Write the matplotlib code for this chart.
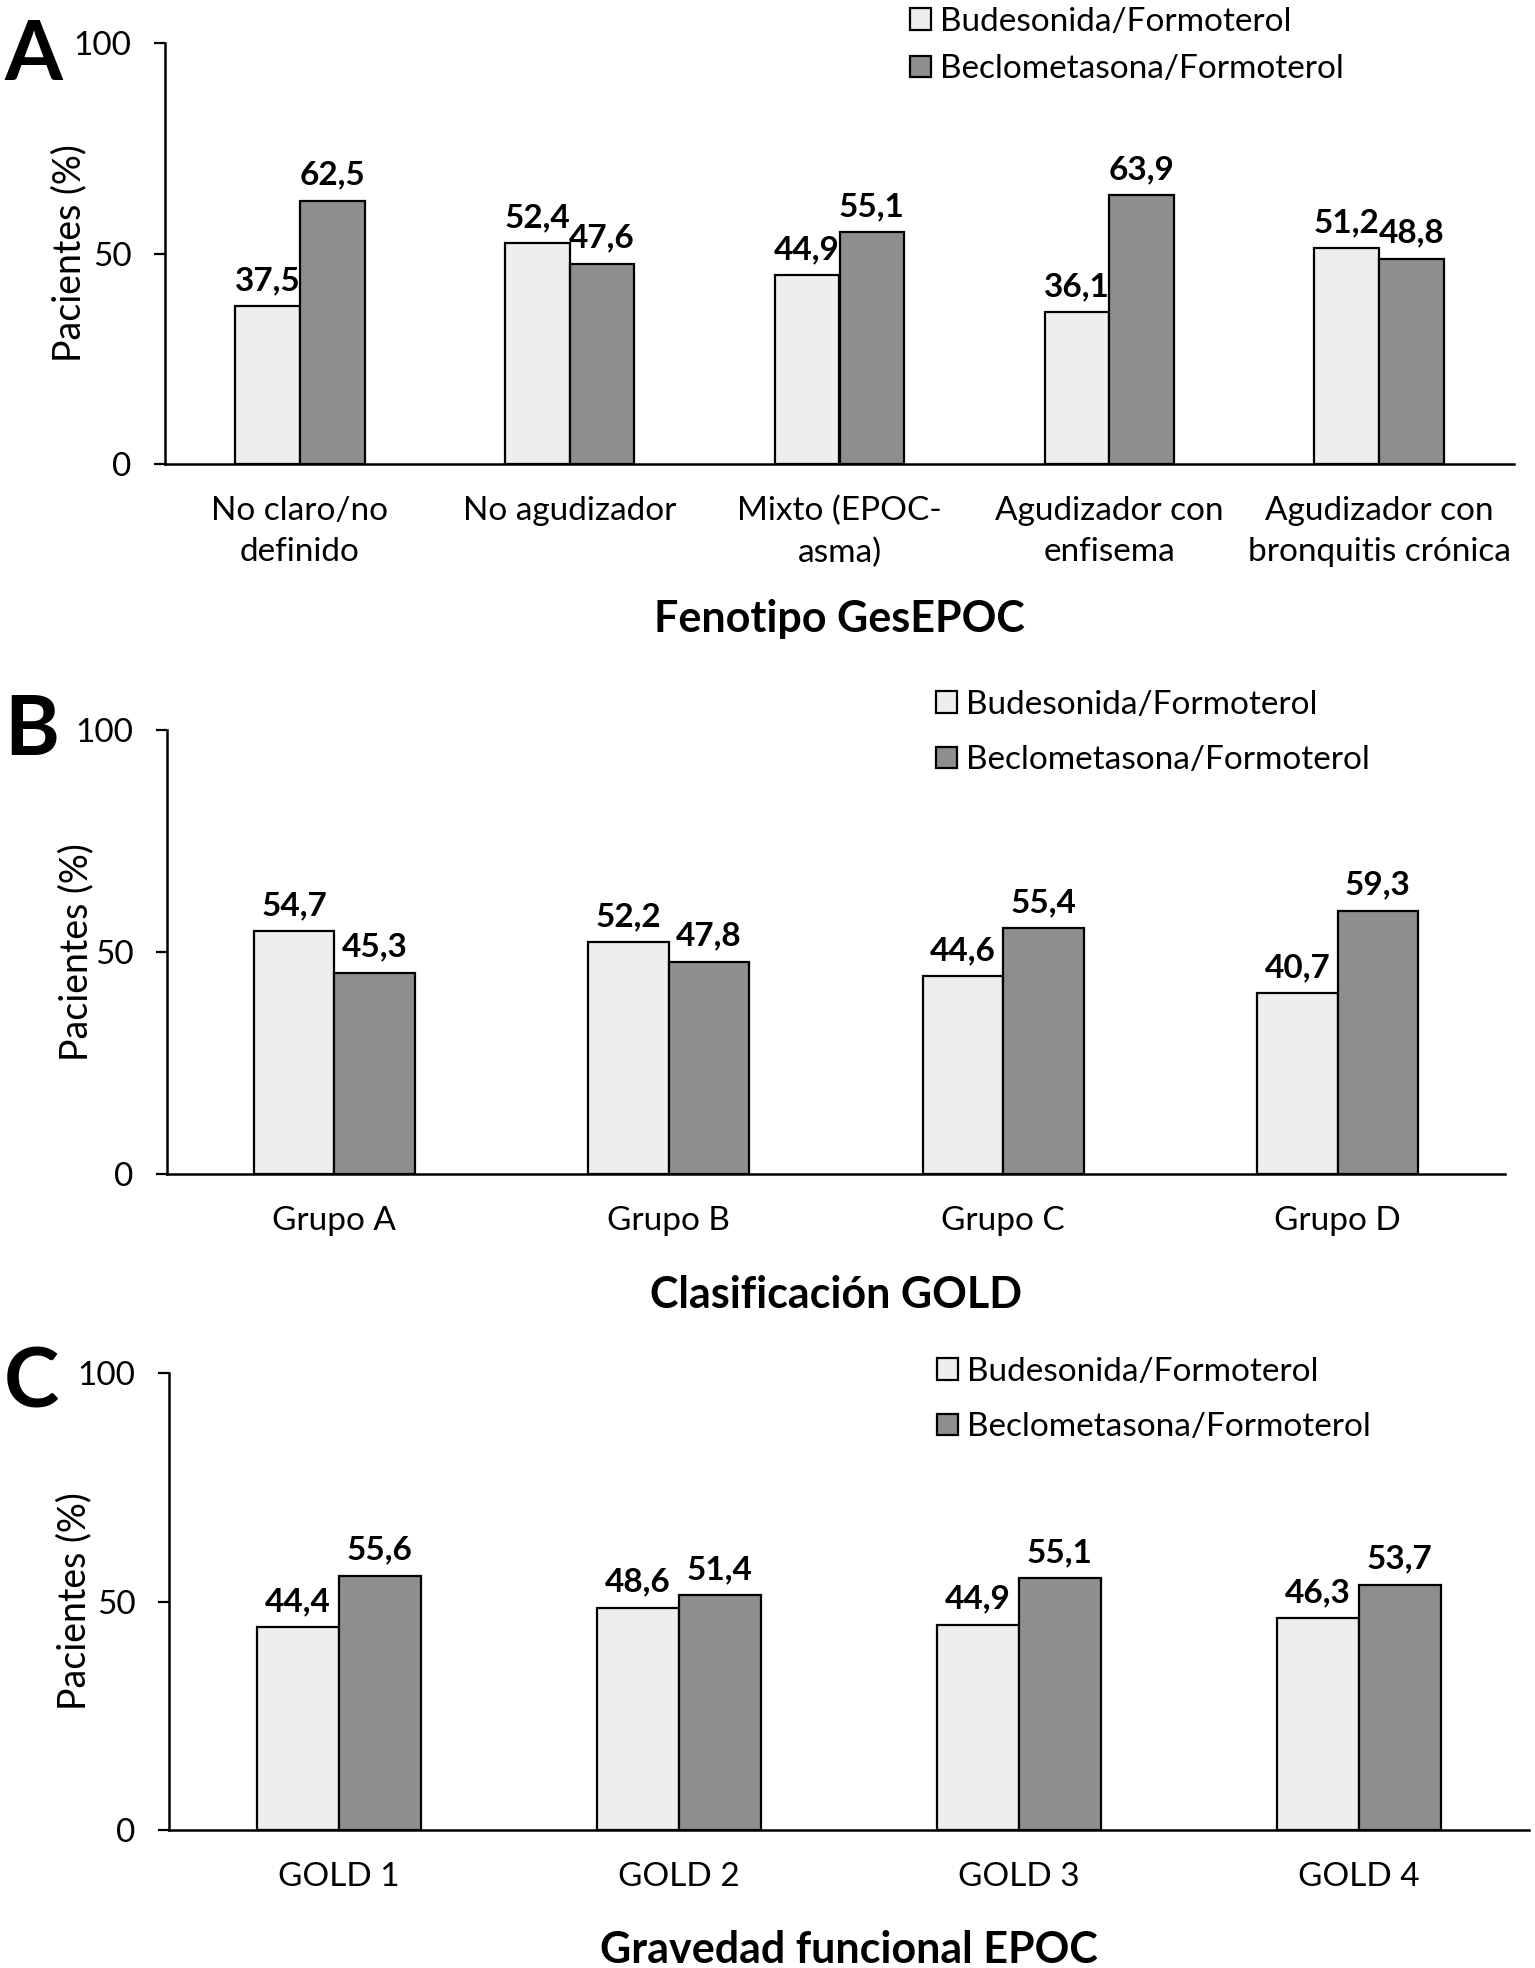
import matplotlib
matplotlib.use("Agg")
import matplotlib.pyplot as plt
import numpy as np
from matplotlib.patches import Patch

plt.rcParams['font.family'] = ['Lato', 'DejaVu Sans']

series_names = ["Budesonida/Formoterol", "Beclometasona/Formoterol"]

cats_a = ["No claro/no\ndefinido", "No agudizador", "Mixto (EPOC-\nasma)",
          "Agudizador con\nenfisema", "Agudizador con\nbronquitis crónica"]
bud_a = [37.5, 52.4, 44.9, 36.1, 51.2]
bec_a = [62.5, 47.6, 55.1, 63.9, 48.8]

cats_b = ["Grupo A", "Grupo B", "Grupo C", "Grupo D"]
bud_b = [54.7, 52.2, 44.6, 40.7]
bec_b = [45.3, 47.8, 55.4, 59.3]

cats_c = ["GOLD 1", "GOLD 2", "GOLD 3", "GOLD 4"]
bud_c = [44.4, 48.6, 44.9, 46.3]
bec_c = [55.6, 51.4, 55.1, 53.7]

titles = ["Fenotipo GesEPOC", "Clasificación GOLD", "Gravedad funcional EPOC"]
letters = ["A", "B", "C"]
yticks = [0, 50, 100]

W, H = 1535, 1968
DPI = 100
fig = plt.figure(figsize=(W / DPI, H / DPI), dpi=DPI)

LIGHT = "#EEEEEE"
DARK = "#8E8E8E"

# pixel layouts: left, right, y0 (bottom), y100 (top)
layouts = [
    dict(l=165, r=1514, b=464, t=43, leg_x=910, leg_top=7, leg_sp=0.52,
         letter_base=80, title_base=632, ylab_x=87),
    dict(l=167, r=1505, b=1174, t=730, leg_x=936, leg_top=690, leg_sp=0.76,
         letter_base=755, title_base=1308, ylab_x=94),
    dict(l=169, r=1529, b=1830, t=1373, leg_x=937, leg_top=1357, leg_sp=0.76,
         letter_base=1407, title_base=1963, ylab_x=92),
]

data = [(cats_a, bud_a, bec_a), (cats_b, bud_b, bec_b), (cats_c, bud_c, bec_c)]

bw = 0.24
for k, ((cats, bud, bec), L) in enumerate(zip(data, layouts)):
    ax = fig.add_axes([L['l'] / W, 1 - L['b'] / H, (L['r'] - L['l']) / W, (L['b'] - L['t']) / H])
    x = np.arange(len(cats))
    b1 = ax.bar(x - bw / 2, bud, width=bw, color=LIGHT, edgecolor="black", linewidth=1.6, zorder=2)
    b2 = ax.bar(x + bw / 2, bec, width=bw, color=DARK, edgecolor="black", linewidth=1.6, zorder=2)
    for bars, vals in ((b1, bud), (b2, bec)):
        for rect, v in zip(bars, vals):
            ax.annotate(f"{v:.1f}".replace(".", ","),
                        (rect.get_x() + rect.get_width() / 2, rect.get_height()),
                        xytext=(0, 8), textcoords="offset points",
                        ha="center", va="bottom", fontsize=24, fontweight="bold")
    ax.set_xlim(-0.5, len(cats) - 0.5)
    ax.set_ylim(0, 100)
    ax.set_yticks(yticks)
    ax.set_xticks(x)
    ax.set_xticklabels(cats, fontsize=24, linespacing=1.45)
    ax.tick_params(axis="y", labelsize=24, length=8, width=1.6, pad=16)
    ax.tick_params(axis="x", length=0, pad=23)
    for s in ("top", "right"):
        ax.spines[s].set_visible(False)
    for s in ("left", "bottom"):
        ax.spines[s].set_linewidth(1.8)
    ax.set_ylabel("Pacientes (%)", fontsize=27)
    ax.yaxis.set_label_coords((L['ylab_x'] - L['l']) / (L['r'] - L['l']), 0.5)

    handles = [Patch(facecolor=LIGHT, edgecolor="black", linewidth=1.6),
               Patch(facecolor=DARK, edgecolor="black", linewidth=1.6)]
    fig.legend(handles, series_names, loc="upper left",
               bbox_to_anchor=(L['leg_x'] / W, 1 - L['leg_top'] / H),
               bbox_transform=fig.transFigure, frameon=False, fontsize=24,
               handlelength=0.62, handleheight=0.62, handletextpad=0.28,
               borderpad=0, borderaxespad=0, labelspacing=L['leg_sp'])

    fig.text((L['l'] + L['r']) / 2 / W, 1 - L['title_base'] / H, titles[k],
             ha="center", va="baseline", fontsize=31, fontweight="bold")
    fig.text(4 / W, 1 - L['letter_base'] / H, letters[k],
             ha="left", va="baseline", fontsize=60, fontweight="bold")

fig.savefig("out.png", dpi=DPI)
